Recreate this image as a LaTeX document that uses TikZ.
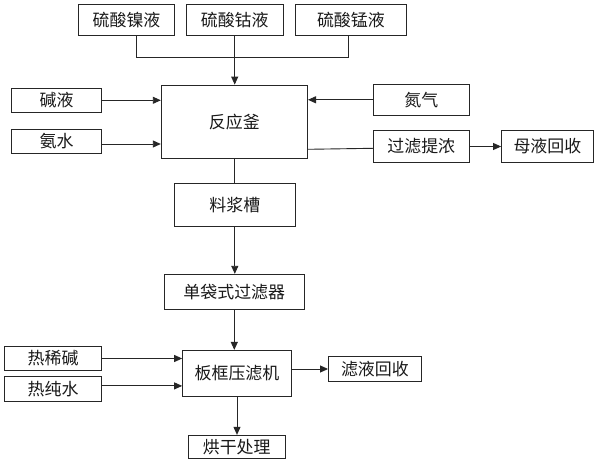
\documentclass[tikz,border=0pt]{standalone}
\usepackage{fontspec}
\newfontfamily\cjk{Noto Sans CJK SC}
\usetikzlibrary{arrows.meta,calc}
\begin{document}
\begin{tikzpicture}[x=1bp,y=-1bp,
  box/.style={draw=black!85,line width=0.9bp,rectangle,inner sep=0pt,font=\cjk\fontsize{17}{20}\selectfont,text=black!90},
  ln/.style={draw=black!85,line width=0.9bp},
  arr/.style={ln,-{Triangle[length=8bp,width=7bp]}}]
\useasboundingbox (0,0) rectangle (599,465);
\fill[white] (0,0) rectangle (599,465);
% top row
\node[box,minimum width=96.3bp,minimum height=30.3bp] (ni) at (126.5,19.9) {硫酸镍液};
\node[box,minimum width=96.6bp,minimum height=30.3bp] (co) at (234.7,19.9) {硫酸钴液};
\node[box,minimum width=111.1bp,minimum height=30.3bp] (mn) at (350.9,19.9) {硫酸锰液};
% reactor and its feeds
\node[box,minimum width=146.3bp,minimum height=73.3bp] (re) at (234.4,121.7) {反应釜};
\node[box,minimum width=90.1bp,minimum height=24bp] (jy) at (56.6,100.3) {碱液};
\node[box,minimum width=90.1bp,minimum height=23.6bp] (as) at (56.6,141.5) {氨水};
\node[box,minimum width=96.2bp,minimum height=31bp] (dq) at (421.3,99.8) {氮气};
\node[box,minimum width=96.2bp,minimum height=31.6bp] (gl) at (421.3,146.5) {过滤提浓};
\node[box,minimum width=91.7bp,minimum height=31.6bp] (my) at (547.4,146.5) {母液回收};
% downstream
\node[box,minimum width=121.1bp,minimum height=43bp] (lj) at (234.8,204.8) {料浆槽};
\node[box,minimum width=140.2bp,minimum height=35bp] (dd) at (234.3,291.8) {单袋式过滤器};
\node[box,minimum width=108.8bp,minimum height=45.7bp] (bk) at (237,373.2) {板框压滤机};
\node[box,minimum width=97bp,minimum height=24.4bp] (rx) at (53.1,358.5) {热稀碱};
\node[box,minimum width=97bp,minimum height=24.3bp] (rc) at (53.1,388.9) {热纯水};
\node[box,minimum width=92.8bp,minimum height=25.4bp] (ly) at (374.9,369) {滤液回收};
\node[box,minimum width=96.7bp,minimum height=23bp] (hg) at (236.7,446.8) {烘干处理};
% connectors
\coordinate (jl) at (136.7,57.3);
\coordinate (jr) at (348.7,57.3);
\draw[ln] (ni.south -| jl) -- (jl) -- (jr) -- (mn.south -| jr);
\draw[arr] (co.south) -- (co.south |- re.north);
\draw[arr] (jy.east) -- (jy.east -| re.west);
\draw[arr] ([yshift=-2.5bp]as.east) -- ([yshift=-2.5bp]as.east -| re.west);
\draw[arr] (dq.west) -- (dq.west -| re.east);
\draw[ln] ([yshift=-2.8bp]gl.west -| re.east) -- ([yshift=-1.8bp]gl.west);
\draw[arr] (gl.east) -- (my.west);
\draw[ln] (re.south) -- (re.south |- lj.north);
\draw[arr] (lj.south) -- (lj.south |- dd.north);
\draw[arr] (dd.south) -- (dd.south |- bk.north);
\draw[arr] (rx.east) -- (rx.east -| bk.west);
\draw[arr] ([yshift=3bp]rc.east) -- ([yshift=3bp]rc.east -| bk.west);
\draw[arr] (bk.east |- ly.west) -- (ly.west);
\draw[arr] (bk.south) -- (bk.south |- hg.north);
\end{tikzpicture}
\end{document}
